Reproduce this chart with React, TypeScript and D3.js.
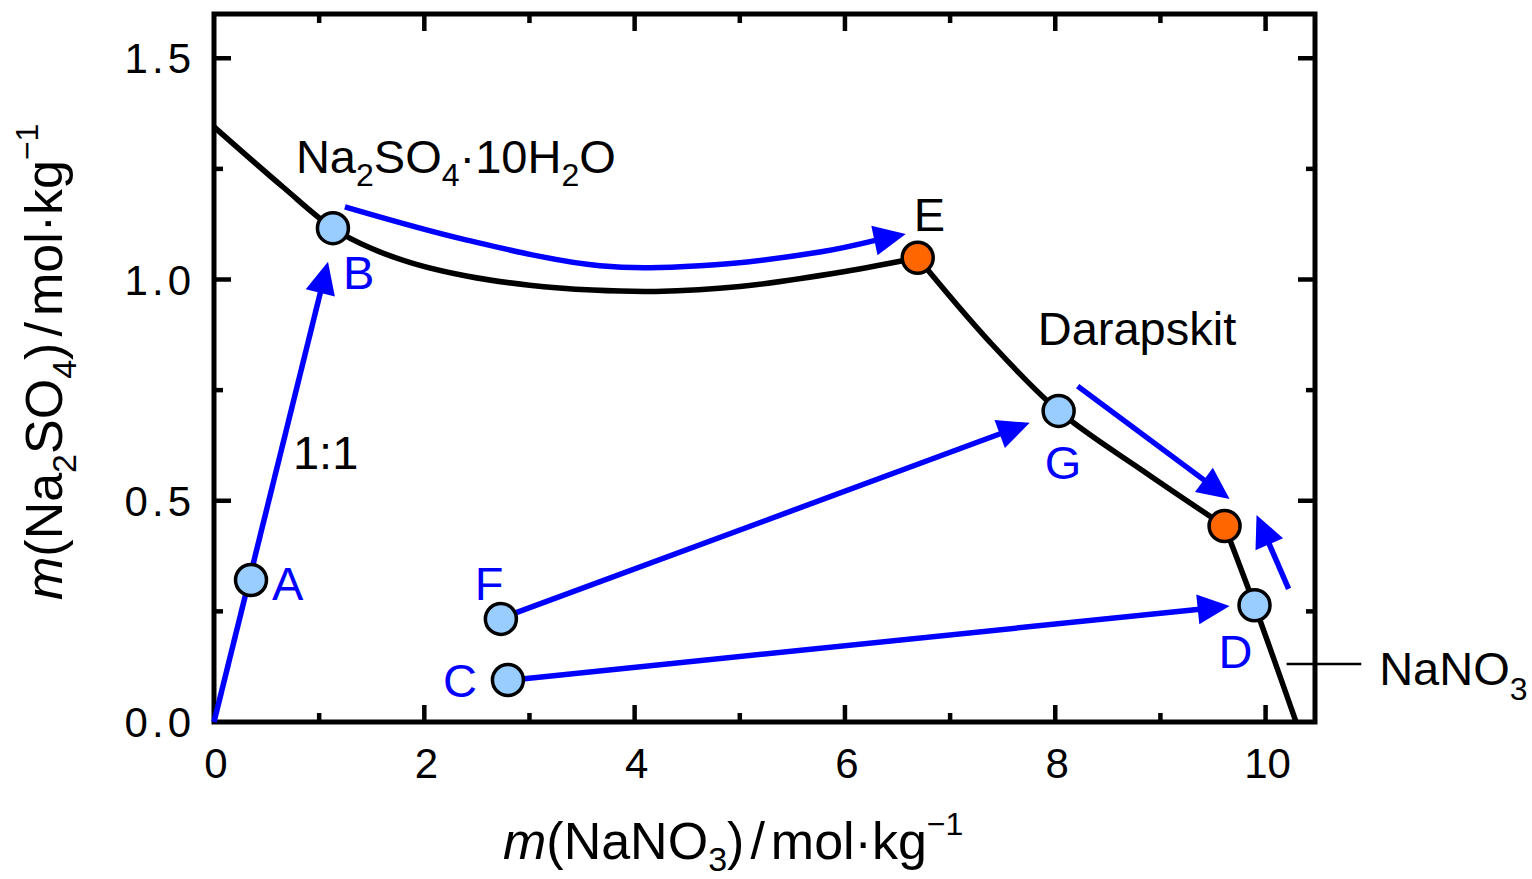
import React from "react";
import * as d3 from "d3";

// ---------- data ----------
const xMajorTicks = [0, 2, 4, 6, 8, 10];
const xMinorTicks = [1, 3, 5, 7, 9];
const yMajorTicks = [0, 0.5, 1.0, 1.5];
const yMinorTicks = [0.25, 0.75, 1.25];
const xTickLabels = ["0", "2", "4", "6", "8", "10"];
const yTickLabels = ["0.0", "0.5", "1.0", "1.5"];

// solubility branches [m(NaNO3), m(Na2SO4)]
const branchDecahydrate: [number, number][] = [
  [0, 1.345], [0.656, 1.209], [1.131, 1.116], [1.5, 1.07], [1.9, 1.036], [2.4, 1.008],
  [3.0, 0.987], [3.6, 0.976], [4.2, 0.973], [5, 0.984], [6, 1.018], [6.692, 1.049],
];
const branchDarapskit: [number, number][] = [
  [6.692, 1.049], [7.35, 0.866], [8.032, 0.703], [8.85, 0.565], [9.61, 0.443],
];
const branchNaNO3: [number, number][] = [
  [9.61, 0.443], [9.895, 0.264], [10.29, 0],
];

// state points
const stateNames = ["A", "B", "C", "D", "F", "G"];
const stateX = [0.352, 1.131, 2.795, 9.895, 2.728, 8.032];
const stateY = [0.321, 1.116, 0.095, 0.264, 0.233, 0.703];

// invariant points
const invariantNames = ["E", ""];
const invariantX = [6.692, 9.61];
const invariantY = [1.049, 0.443];

// arrows (paths, last point = tip)
const arrowPaths: [number, number][][] = [
  [[0, 0], [1.084, 1.040]],
  [[1.245, 1.164], [2.405, 1.089], [3.669, 1.031], [4.62, 1.031], [5.76, 1.062], [6.578, 1.103]],
  [[2.861, 0.246], [7.757, 0.676]],
  [[2.928, 0.097], [9.658, 0.262]],
  [[8.213, 0.759], [9.658, 0.504]],
  [[10.219, 0.301], [9.914, 0.468]],
];

// ---------- layout ----------
const W = 1532, H = 879;
const L = 214, R = 1315, T = 14, B = 722;
const FONT = "'Liberation Sans', Arial, Helvetica, sans-serif";
const BLUE = "#0000FF";

const x = d3.scaleLinear().domain([0, 10.47]).range([L, R]);
const y = d3.scaleLinear().domain([0, 1.6]).range([B, T]);

const line = d3
  .line<[number, number]>()
  .x((d) => x(d[0]))
  .y((d) => y(d[1]))
  .curve(d3.curveCatmullRom.alpha(0.5));

const pxLine = d3
  .line<[number, number]>()
  .x((d) => d[0])
  .y((d) => d[1])
  .curve(d3.curveCatmullRom.alpha(0.5));

const labelOffsets: Record<string, [number, number]> = {
  A: [21, 20], B: [10, 61], C: [-65, 17], D: [-36, 63], F: [-26, -19], G: [-14, 68], E: [-4, -27],
};

function Arrow({ pts }: { pts: [number, number][] }) {
  const p = pts.map((d) => [x(d[0]), y(d[1])] as [number, number]);
  const tip = p[p.length - 1];
  const prev = p[p.length - 2];
  const dx = tip[0] - prev[0], dy = tip[1] - prev[1];
  const len = Math.hypot(dx, dy);
  const ux = dx / len, uy = dy / len;
  const HL = 32, HW = 15;
  const base: [number, number] = [tip[0] - ux * HL, tip[1] - uy * HL];
  const shaft = [...p.slice(0, -1), [base[0] + ux * 2, base[1] + uy * 2] as [number, number]];
  const head = [
    tip,
    [base[0] - uy * HW, base[1] + ux * HW],
    [base[0] + uy * HW, base[1] - ux * HW],
  ];
  return (
    <g>
      <path d={pxLine(shaft) || ""} fill="none" stroke={BLUE} strokeWidth={5.5} />
      <polygon points={head.map((h) => h.join(",")).join(" ")} fill={BLUE} />
    </g>
  );
}

export default function App() {
  const SUB = 32;
  return (
    <svg
      width={W}
      height={H}
      viewBox={`0 0 ${W} ${H}`}
      style={{ position: "absolute", left: 0, top: 0, background: "#fff" }}
      fontFamily={FONT}
    >
      <rect x={0} y={0} width={W} height={H} fill="#fff" />

      {/* ticks */}
      <g stroke="#000" strokeWidth={4.5}>
        {xMajorTicks.slice(1).map((t) => (
          <g key={"xM" + t}>
            <line x1={x(t)} x2={x(t)} y1={B} y2={B - 17} />
            <line x1={x(t)} x2={x(t)} y1={T} y2={T + 17} />
          </g>
        ))}
        {xMinorTicks.map((t) => (
          <g key={"xm" + t}>
            <line x1={x(t)} x2={x(t)} y1={B} y2={B - 9} />
            <line x1={x(t)} x2={x(t)} y1={T} y2={T + 9} />
          </g>
        ))}
        {yMajorTicks.slice(1).map((t) => (
          <g key={"yM" + t}>
            <line x1={L} x2={L + 17} y1={y(t)} y2={y(t)} />
            <line x1={R} x2={R - 17} y1={y(t)} y2={y(t)} />
          </g>
        ))}
        {yMinorTicks.map((t) => (
          <g key={"ym" + t}>
            <line x1={L} x2={L + 9} y1={y(t)} y2={y(t)} />
            <line x1={R} x2={R - 9} y1={y(t)} y2={y(t)} />
          </g>
        ))}
      </g>

      {/* tick labels */}
      <g fontSize={42} fill="#000">
        {xMajorTicks.map((t, i) => (
          <text key={"xl" + t} x={x(t) + 2} y={778} textAnchor="middle">
            {xTickLabels[i]}
          </text>
        ))}
        {yMajorTicks.map((t, i) => (
          <text key={"yl" + t} x={195} y={y(t) + 15} textAnchor="end" letterSpacing={4}>
            {yTickLabels[i]}
          </text>
        ))}
      </g>

      {/* solubility curves */}
      <g fill="none" stroke="#000" strokeWidth={5.5} strokeLinejoin="round">
        <path d={line(branchDecahydrate) || ""} />
        <path d={line(branchDarapskit) || ""} />
        <path d={line(branchNaNO3) || ""} />
      </g>

      {/* NaNO3 leader line */}
      <line x1={x(10.2)} x2={x(10.91)} y1={y(0.131)} y2={y(0.131)} stroke="#000" strokeWidth={2.5} />

      {/* frame */}
      <rect x={L} y={T} width={R - L} height={B - T} fill="none" stroke="#000" strokeWidth={5} />

      {/* arrows */}
      {arrowPaths.map((pts, i) => (
        <Arrow key={"a" + i} pts={pts} />
      ))}

      {/* points */}
      {stateNames.map((n, i) => (
        <circle key={"s" + n} cx={x(stateX[i])} cy={y(stateY[i])} r={15.5} fill="#99CCFF" stroke="#000" strokeWidth={3.5} />
      ))}
      {invariantNames.map((n, i) => (
        <circle key={"i" + i} cx={x(invariantX[i])} cy={y(invariantY[i])} r={15.5} fill="#FF6600" stroke="#000" strokeWidth={3.5} />
      ))}

      {/* point labels */}
      <g fontSize={47}>
        {stateNames.map((n, i) => (
          <text key={"sl" + n} x={x(stateX[i]) + labelOffsets[n][0]} y={y(stateY[i]) + labelOffsets[n][1]} fill={BLUE}>
            {n}
          </text>
        ))}
        <text x={x(invariantX[0]) + labelOffsets.E[0]} y={y(invariantY[0]) + labelOffsets.E[1]} fill="#000">
          {invariantNames[0]}
        </text>
      </g>

      {/* phase labels */}
      <g fontSize={47} fill="#000">
        <text x={x(0.779)} y={y(1.241)}>
          <tspan>Na</tspan>
          <tspan fontSize={SUB} dy={13}>2</tspan>
          <tspan dy={-13}>SO</tspan>
          <tspan fontSize={SUB} dy={13}>4</tspan>
          <tspan dy={-13}>·10H</tspan>
          <tspan fontSize={SUB} dy={13}>2</tspan>
          <tspan dy={-13}>O</tspan>
        </text>
        <text x={x(7.833)} y={y(0.852)}>Darapskit</text>
        <text x={x(0.751)} y={y(0.572)}>1:1</text>
        <text x={x(11.08)} y={y(0.083)}>
          <tspan>NaNO</tspan>
          <tspan fontSize={SUB} dy={15}>3</tspan>
        </text>
      </g>

      {/* axis titles */}
      <text x={503} y={859} fontSize={52} fill="#000">
        <tspan fontStyle="italic">m</tspan>
        <tspan>(NaNO</tspan>
        <tspan fontSize={34} dy={12}>3</tspan>
        <tspan dy={-12}>)</tspan>
        <tspan dx={6}>/</tspan>
        <tspan dx={6}>mol·kg</tspan>
        <tspan fontSize={32} dy={-24}>−1</tspan>
      </text>
      <text transform="translate(62,600) rotate(-90)" fontSize={52} fill="#000">
        <tspan fontStyle="italic">m</tspan>
        <tspan>(Na</tspan>
        <tspan fontSize={34} dy={14}>2</tspan>
        <tspan dy={-14}>SO</tspan>
        <tspan fontSize={34} dy={14}>4</tspan>
        <tspan dy={-14}>)</tspan>
        <tspan dx={6}>/</tspan>
        <tspan dx={6}>mol·kg</tspan>
        <tspan fontSize={32} dy={-24}>−1</tspan>
      </text>
    </svg>
  );
}
